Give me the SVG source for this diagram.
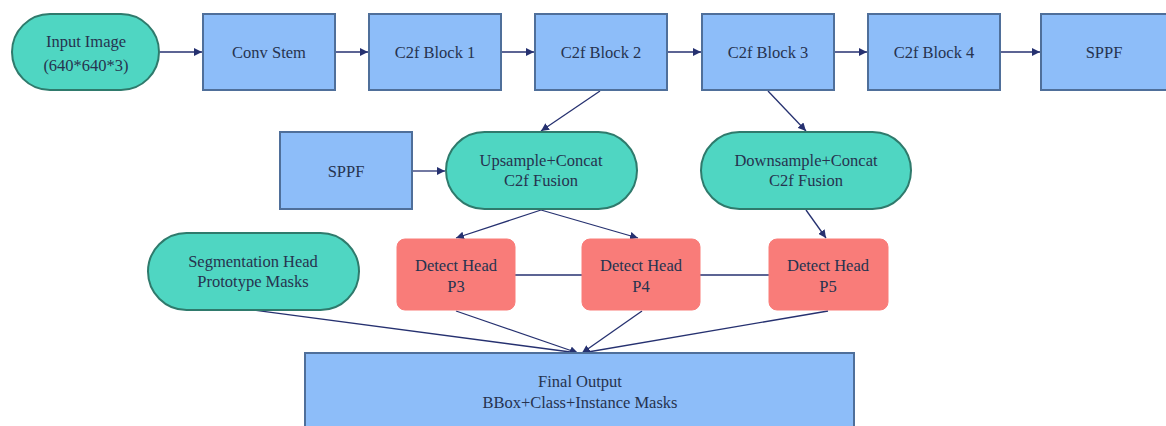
<svg xmlns="http://www.w3.org/2000/svg" width="1166" height="426" viewBox="0 0 1166 426" font-family="Liberation Serif, Times New Roman, Times, DejaVu Serif, serif">
<defs>
<style>
.blue{fill:#8dbdf9;stroke:#4f6f9a;stroke-width:2}
.teal{fill:#4fd6c2;stroke:#2f7a6c;stroke-width:2}
.red{fill:#f97c79;stroke:#f97c79;stroke-width:1}
.t{font-size:16.5px;fill:#26334f;text-anchor:middle;dominant-baseline:central}
.c{stroke:#263170;stroke-width:1.3;fill:none}
</style>
<marker id="ah" viewBox="0 0 10 10" refX="10" refY="5" markerWidth="8" markerHeight="8" markerUnits="userSpaceOnUse" orient="auto">
<path d="M0,0 L10,5 L0,10 z" fill="#263170"/>
</marker>
</defs>
<rect width="1166" height="426" fill="#ffffff"/>
<g id="connectors">
<line class="c" x1="160" y1="52" x2="202" y2="52" marker-end="url(#ah)"/>
<line class="c" x1="335" y1="52" x2="368" y2="52" marker-end="url(#ah)"/>
<line class="c" x1="501" y1="52" x2="534" y2="52" marker-end="url(#ah)"/>
<line class="c" x1="668" y1="52" x2="701" y2="52" marker-end="url(#ah)"/>
<line class="c" x1="834" y1="52" x2="867" y2="52" marker-end="url(#ah)"/>
<line class="c" x1="1001" y1="52" x2="1040" y2="52" marker-end="url(#ah)"/>
<line class="c" x1="600" y1="91" x2="541" y2="131" marker-end="url(#ah)"/>
<line class="c" x1="768" y1="91" x2="806" y2="131" marker-end="url(#ah)"/>
<line class="c" x1="413" y1="171" x2="445" y2="171" marker-end="url(#ah)"/>
<line class="c" x1="541" y1="210" x2="456" y2="238" marker-end="url(#ah)"/>
<line class="c" x1="541" y1="210" x2="638" y2="238" marker-end="url(#ah)"/>
<line class="c" x1="806" y1="210" x2="826" y2="238" marker-end="url(#ah)"/>
<line class="c" x1="515" y1="275" x2="582" y2="275"/>
<line class="c" x1="700" y1="275" x2="769" y2="275"/>
<line class="c" x1="253" y1="310" x2="578" y2="353" marker-end="url(#ah)"/>
<line class="c" x1="456" y1="311" x2="578" y2="353" marker-end="url(#ah)"/>
<line class="c" x1="642" y1="311" x2="582" y2="353" marker-end="url(#ah)"/>
<line class="c" x1="828" y1="311" x2="582" y2="353" marker-end="url(#ah)"/>
</g>
<g id="input">
<rect class="teal" x="12" y="14" width="147" height="76" rx="38"/>
<text class="t" x="86" y="41">Input Image</text>
<text class="t" x="86" y="65">(640*640*3)</text>
</g>
<g id="convstem">
<rect class="blue" x="203" y="14" width="132" height="76"/>
<text class="t" x="269" y="52">Conv Stem</text>
</g>
<g id="block1">
<rect class="blue" x="369" y="14" width="132" height="76"/>
<text class="t" x="435" y="52">C2f Block 1</text>
</g>
<g id="block2">
<rect class="blue" x="535" y="14" width="132" height="76"/>
<text class="t" x="601" y="52">C2f Block 2</text>
</g>
<g id="block3">
<rect class="blue" x="702" y="14" width="132" height="76"/>
<text class="t" x="768" y="52">C2f Block 3</text>
</g>
<g id="block4">
<rect class="blue" x="868" y="14" width="132" height="76"/>
<text class="t" x="934" y="52">C2f Block 4</text>
</g>
<g id="sppf1">
<rect class="blue" x="1041" y="14" width="132" height="76"/>
<text class="t" x="1104" y="52">SPPF</text>
</g>
<g id="sppf2">
<rect class="blue" x="280" y="132" width="132" height="77"/>
<text class="t" x="346" y="171">SPPF</text>
</g>
<g id="upsample">
<rect class="teal" x="446" y="132" width="191" height="77" rx="38.5"/>
<text class="t" x="541" y="160">Upsample+Concat</text>
<text class="t" x="541" y="180">C2f Fusion</text>
</g>
<g id="downsample">
<rect class="teal" x="701" y="132" width="210" height="77" rx="38.5"/>
<text class="t" x="806" y="160">Downsample+Concat</text>
<text class="t" x="806" y="180">C2f Fusion</text>
</g>
<g id="seghead">
<rect class="teal" x="148" y="233" width="211" height="77" rx="38.5"/>
<text class="t" x="253" y="261">Segmentation Head</text>
<text class="t" x="253" y="281">Prototype Masks</text>
</g>
<g id="p3">
<rect class="red" x="397" y="239" width="118" height="71" rx="8"/>
<text class="t" x="456" y="265">Detect Head</text>
<text class="t" x="456" y="286">P3</text>
</g>
<g id="p4">
<rect class="red" x="582" y="239" width="118" height="71" rx="8"/>
<text class="t" x="641" y="265">Detect Head</text>
<text class="t" x="641" y="286">P4</text>
</g>
<g id="p5">
<rect class="red" x="769" y="239" width="119" height="71" rx="8"/>
<text class="t" x="828" y="265">Detect Head</text>
<text class="t" x="828" y="286">P5</text>
</g>
<g id="final">
<rect class="blue" x="305" y="353" width="549" height="90"/>
<text class="t" x="580" y="381">Final Output</text>
<text class="t" x="580" y="402">BBox+Class+Instance Masks</text>
</g>
</svg>
